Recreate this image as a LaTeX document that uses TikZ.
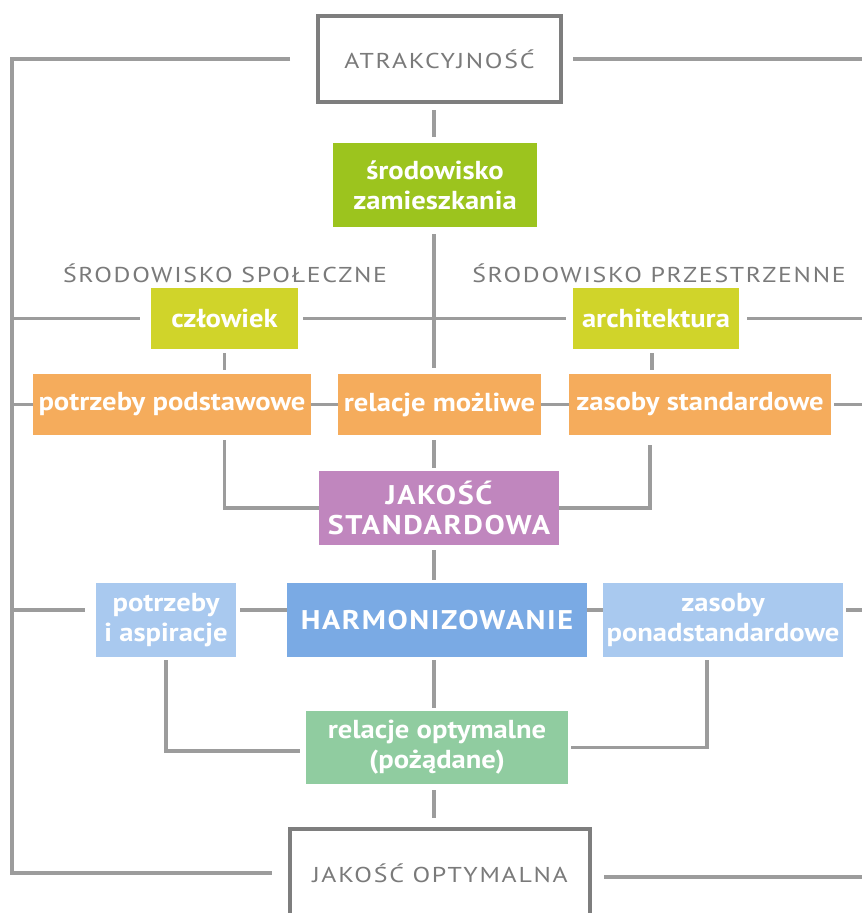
\documentclass[tikz,border=0pt]{standalone}
\usepackage{fontspec}
\setmainfont{PT Sans}
\newfontface\lcfont{PT Sans Bold}[FakeStretch=1.1]
\newfontface\ucfont{PT Sans Bold}[FakeStretch=1.12,LetterSpace=6]
\newfontface\grfont{PT Sans}[FakeStretch=1.2,LetterSpace=8]
\usetikzlibrary{calc}
\definecolor{linec}{HTML}{9C9C9C}
\definecolor{framec}{HTML}{7E7E7E}
\definecolor{txtgray}{HTML}{7A7A7A}
\definecolor{zamc}{HTML}{9CC41E}
\definecolor{czlc}{HTML}{D0D42A}
\definecolor{orac}{HTML}{F5AC5C}
\definecolor{purc}{HTML}{C086BE}
\definecolor{lbluc}{HTML}{A9C9EF}
\definecolor{bluc}{HTML}{7AAAE4}
\definecolor{grnc}{HTML}{90CCA0}
\begin{document}
\begin{tikzpicture}[x=1pt,y=-1pt,
  conn/.style={draw=linec,line width=3.5},
  cbox/.style={inner sep=0,align=center,text=white,
    font=\lcfont\fontsize{26}{30}\selectfont},
  ubox/.style={cbox,font=\ucfont\fontsize{27}{30}\selectfont},
  frame/.style={draw=framec,line width=4,fill=white,inner sep=0,align=center,
    text=txtgray,font=\grfont\fontsize{21.5}{24}\selectfont},
  lab/.style={inner sep=0,text=txtgray,font=\grfont\fontsize{21.5}{24}\selectfont}]
\useasboundingbox (0,0) rectangle (862,913);
\clip (0,0) rectangle (862,913);
\fill[white] (0,0) rectangle (862,913);
\coordinate (spine) at (434,0);
\coordinate (L) at (12,0);
\coordinate (R) at (870,0);
% nodes
\node[frame,minimum width=243,minimum height=86] (atr) at (439.5,59) {ATRAKCYJNOŚĆ};
\node[cbox,fill=zamc,minimum width=204,minimum height=84] (zam) at (435,185) {środowisko\\zamieszkania};
\node[lab] (sp) at (225,273) {ŚRODOWISKO SPOŁECZNE};
\node[lab] (pr) at (659,273) {ŚRODOWISKO PRZESTRZENNE};
\node[cbox,fill=czlc,minimum width=147,minimum height=61] (czl) at (224.5,318.5) {człowiek};
\node[cbox,fill=czlc,minimum width=166,minimum height=61] (arch) at (656,318.5) {architektura};
\node[cbox,fill=orac,minimum width=278,minimum height=61] (pp) at (172,404.5) {potrzeby podstawowe};
\node[cbox,fill=orac,minimum width=203,minimum height=61] (rm) at (439.5,404.5) {relacje możliwe};
\node[cbox,fill=orac,minimum width=262,minimum height=61] (zs) at (700,404.5) {zasoby standardowe};
\node[ubox,fill=purc,minimum width=240,minimum height=74] (js) at (439,508) {JAKOŚĆ\\STANDARDOWA};
\node[cbox,fill=lbluc,minimum width=140,minimum height=74] (pia) at (166,620) {potrzeby\\i aspiracje};
\node[ubox,fill=bluc,minimum width=300,minimum height=74] (harm) at (437,620) {HARMONIZOWANIE};
\node[cbox,fill=lbluc,minimum width=240,minimum height=74] (zpon) at (723,620) {zasoby\\ponadstandardowe};
\node[cbox,fill=grnc,minimum width=262,minimum height=73] (ro) at (437,747.5) {relacje optymalne\\(pożądane)};
\node[frame,minimum width=300,minimum height=88] (jo) at (440,873) {JAKOŚĆ OPTYMALNA};
% outer rail
\draw[conn] ($(atr.west)+(-26,0)$) -| (L |- jo.west) -- ($(jo.west)+(-16,0)$);
\draw[conn] ($(atr.east)+(10,0)$) -- (R |- atr.east);
\draw[conn] ($(jo.east)+(12,4)$) -- ($(R |- jo.east)+(0,4)$);
% spine
\draw[conn] ($(atr.south -| spine)+(0,6)$) -- ($(zam.north -| spine)+(0,-6)$);
\draw[conn] ($(zam.south -| spine)+(0,7)$) -- ($(rm.north -| spine)+(0,-6)$);
\draw[conn] ($(rm.south -| spine)+(0,5)$) -- ($(js.north -| spine)+(0,-3)$);
\draw[conn] ($(js.south -| spine)+(0,5)$) -- ($(harm.north -| spine)+(0,-3)$);
\draw[conn] ($(harm.south -| spine)+(0,3)$) -- ($(ro.north -| spine)+(0,-3)$);
\draw[conn] ($(ro.south -| spine)+(0,6)$) -- ($(jo.north -| spine)+(0,-9)$);
% row czlowiek / architektura
\draw[conn] (L |- czl.west) -- ($(czl.west)+(-11,0)$);
\draw[conn] ($(czl.east)+(5,0)$) -- ($(arch.west)+(-7,0)$);
\draw[conn] ($(arch.east)+(8,0)$) -- (R |- arch.east);
\draw[conn] ($(czl.south)+(0,4)$) -- ($(czl.south |- pp.north)+(0,-4)$);
\draw[conn] ($(arch.south)+(-4,4)$) -- ($(arch.south |- zs.north)+(-4,-4)$);
% orange row
\draw[conn] (L |- pp.west) -- (pp.west);
\draw[conn] (pp.east) -- (rm.west);
\draw[conn] (rm.east) -- (zs.west);
\draw[conn] ($(zs.east)+(3,0)$) -- (R |- zs.east);
\draw[conn] ($(czl.south |- pp.south)+(0,5)$) |- (js.west);
\draw[conn] ($(arch.south |- zs.south)+(-6,10)$) |- (js.east);
% blue row
\draw[conn] ($(L |- pia.west)+(0,-10)$) -- ($(pia.west)+(-11,-10)$);
\draw[conn] ($(pia.east)+(4,-10)$) -- ($(harm.west)+(0,-10)$);
\draw[conn] ($(harm.east)+(0,-10)$) -- ($(zpon.west)+(0,-10)$);
\draw[conn] ($(zpon.east)+(3,-10)$) -- ($(R |- zpon.east)+(0,-10)$);
\draw[conn] ($(pia.south)+(0,3)$) |- ($(ro.west)+(-6,3.5)$);
\draw[conn] ($(zpon.south)+(-16,3)$) |- ($(ro.east)+(3,0)$);
\end{tikzpicture}
\end{document}
